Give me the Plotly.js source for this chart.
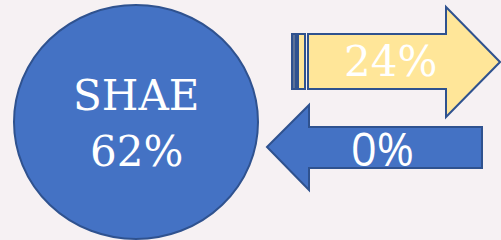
<!DOCTYPE html>
<html><head><meta charset="utf-8">
<script src="https://cdn.plot.ly/plotly-3.0.1.min.js"></script>
<style>html,body{margin:0;padding:0;background:#f6f1f3;}</style>
</head><body>
<div id="chart" style="width:501px;height:240px;"></div>
<script>
// Data
const labels = ["SHAE", "Right", "Left"];
const values = [62, 24, 0];
const valueText = values.map(v => v + "%");

const blue = "#4472C4", edge = "#2F528F", yellow = "#FFE699";

const shapes = [
  {type:"circle", xref:"x", yref:"y", x0:14, x1:258, y0:5, y1:239,
   fillcolor:blue, line:{color:edge, width:2}},
  {type:"path", xref:"x", yref:"y",
   path:"M308,34 L446,34 L446,7 L500,62 L446,117 L446,89 L308,89 Z",
   fillcolor:yellow, line:{color:edge, width:2}},
  {type:"rect", xref:"x", yref:"y", x0:292, x1:296, y0:34, y1:89,
   fillcolor:"#5a7198", line:{color:edge, width:2}},
  {type:"rect", xref:"x", yref:"y", x0:298, x1:305, y0:34, y1:89,
   fillcolor:yellow, line:{color:edge, width:2}},
  {type:"path", xref:"x", yref:"y",
   path:"M267,147 L309,105 L309,127 L482,127 L482,168 L309,168 L309,190 Z",
   fillcolor:blue, line:{color:edge, width:2}}
];

const serif = "DejaVu Serif, serif";
const annotations = [
  {x:136, y:95, text:labels[0], font:{family:serif, size:42, color:"#fff"}},
  {x:136, y:151, text:valueText[0], font:{family:serif, size:42, color:"#fff"}},
  {x:390, y:61, text:valueText[1], font:{family:serif, size:42, color:"#fff"}},
  {x:382, y:148, text:valueText[2], font:{family:"Open Sans, sans-serif", size:45, color:"#fff"}}
].map(a => Object.assign({xref:"x", yref:"y", showarrow:false, xanchor:"center", yanchor:"middle"}, a));

Plotly.newPlot("chart", [{x:[0], y:[0], mode:"markers", marker:{opacity:0}, hoverinfo:"skip", showlegend:false}], {
  width:501, height:240,
  margin:{l:0, r:0, t:0, b:0},
  paper_bgcolor:"#f6f1f3", plot_bgcolor:"#f6f1f3",
  xaxis:{range:[0,501], visible:false, fixedrange:true},
  yaxis:{range:[240,0], visible:false, fixedrange:true},
  shapes:shapes, annotations:annotations, showlegend:false
}, {displayModeBar:false, staticPlot:true});
</script>
</body></html>
